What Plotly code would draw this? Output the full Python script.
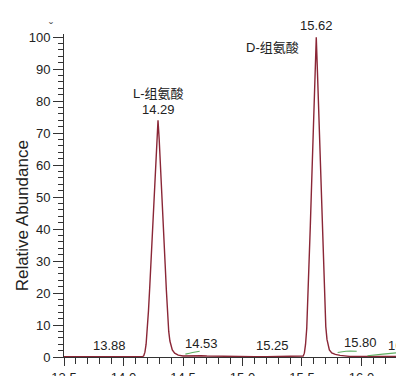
import plotly.graph_objects as go

# Chromatogram trace: retention time (min) vs relative abundance (%)
rt = [13.50, 13.60, 13.70, 13.80, 13.88, 13.95, 14.05, 14.12, 14.15, 14.16,
      14.17, 14.18, 14.19, 14.20, 14.21, 14.22, 14.23, 14.24, 14.25, 14.26,
      14.27, 14.28, 14.29, 14.30, 14.31, 14.32, 14.33, 14.34, 14.35, 14.36,
      14.37, 14.38, 14.39, 14.40, 14.41, 14.43, 14.46, 14.50, 14.55, 14.60,
      14.65, 14.70, 14.80, 14.90, 15.00, 15.10, 15.20, 15.25, 15.30, 15.40,
      15.46, 15.50, 15.51, 15.52, 15.53, 15.54, 15.55, 15.56, 15.57, 15.58,
      15.59, 15.60, 15.61, 15.62, 15.63, 15.64, 15.65, 15.66, 15.67, 15.68,
      15.69, 15.70, 15.71, 15.72, 15.73, 15.75, 15.78, 15.82, 15.86, 15.90,
      16.00, 16.10, 16.20, 16.29]
abundance = [0.1, 0.1, 0.1, 0.1, 0.2, 0.1, 0.1, 0.1, 0.1, 0.1,
             0.4, 1.5, 4.0, 8.5, 14.5, 21.5, 29.0, 37.0, 45.0, 53.0,
             61.0, 68.0, 74.0, 68.0, 61.0, 53.0, 45.0, 37.0, 29.0, 21.0,
             13.5, 8.0, 5.0, 3.3, 2.2, 1.2, 0.6, 0.3, 0.4, 0.5,
             0.4, 0.3, 0.2, 0.1, 0.1, 0.1, 0.1, 0.1, 0.1, 0.1,
             0.1, 0.2, 0.3, 1.2, 4.0, 9.0, 18.0, 29.0, 41.0, 53.0,
             65.0, 77.0, 89.0, 100.0, 89.0, 77.0, 64.0, 51.0, 38.0, 26.0,
             16.0, 9.5, 5.5, 3.3, 2.2, 1.3, 0.8, 0.5, 0.3, 0.2,
             0.2, 0.2, 0.2, 0.2]

# Integration baselines of the minor peaks
base1_rt = [14.52, 14.58, 14.64]
base1_ab = [0.9, 1.4, 1.8]
base2_rt = [15.80, 15.87, 15.96]
base2_ab = [1.4, 1.8, 1.8]
base3_rt = [16.05, 16.18, 16.29]
base3_ab = [0.4, 0.9, 1.3]

# Peak labels (retention times)
minor_labels = ["13.88", "14.53", "15.25", "15.80", "16.20"]
minor_rt = [13.88, 14.53, 15.25, 15.80, 16.20]
minor_anchor = ["center", "left", "center", "left", "left"]
minor_shift = [0, -4, 0, 4, 1]
minor_lift = [2, 4, 2, 5, 2]

major_rt = [14.29, 15.62]
major_ab = [74.0, 100.0]
major_names = ["L-组氨酸", "D-组氨酸"]

x_ticks = [13.5, 14.0, 14.5, 15.0, 15.5, 16.0]
y_ticks = list(range(0, 101, 10))

FONT = "Liberation Sans, Arial, Noto Sans CJK SC, sans-serif"
INK = "#222222"
TRACE = "#8a2636"
GREEN = "#5fae62"

fig = go.Figure()
fig.add_trace(go.Scatter(x=rt, y=abundance, mode="lines",
                         line=dict(color=TRACE, width=1.4),
                         cliponaxis=False, hoverinfo="skip"))
for bx, by in [(base1_rt, base1_ab), (base2_rt, base2_ab), (base3_rt, base3_ab)]:
    fig.add_trace(go.Scatter(x=bx, y=by, mode="lines", line_shape="spline",
                             line=dict(color=GREEN, width=1.1),
                             cliponaxis=False, hoverinfo="skip"))

annotations = []
for txt, x, anc, sh, lift in zip(minor_labels, minor_rt, minor_anchor, minor_shift, minor_lift):
    annotations.append(dict(x=x, y=0, text=txt, showarrow=False, xanchor=anc,
                            yanchor="bottom", xshift=sh, yshift=lift,
                            font=dict(size=13, color=INK, family=FONT)))

# Main peak labels
annotations.append(dict(x=major_rt[0], y=major_ab[0], text="14.29", showarrow=False,
                        xanchor="center", yanchor="bottom", yshift=1,
                        font=dict(size=13, color=INK, family=FONT)))
annotations.append(dict(x=major_rt[0], y=major_ab[0], text=major_names[0], showarrow=False,
                        xanchor="center", yanchor="bottom", yshift=17,
                        font=dict(size=13, color=INK, family=FONT)))
annotations.append(dict(x=major_rt[1], y=major_ab[1], text="15.62", showarrow=False,
                        xanchor="center", yanchor="bottom", yshift=2,
                        font=dict(size=13, color=INK, family=FONT)))
annotations.append(dict(x=major_rt[1], y=major_ab[1], text=major_names[1], showarrow=False,
                        xanchor="right", yanchor="middle", xshift=-15, yshift=-10,
                        font=dict(size=13, color=INK, family=FONT)))

# Axis title
annotations.append(dict(xref="paper", yref="paper", x=-0.125, y=0.437,
                        text="Relative Abundance", textangle=-90, showarrow=False,
                        xanchor="center", yanchor="middle",
                        font=dict(size=17, color=INK, family=FONT)))
annotations.append(dict(xref="paper", yref="paper", x=-0.04, y=1.02, text="ˇ",
                        showarrow=False, xanchor="center", yanchor="middle",
                        font=dict(size=12, color="#555555", family=FONT)))

fig.update_layout(
    width=396, height=376, autosize=False,
    margin=dict(l=64, r=0, t=34, b=19),
    paper_bgcolor="white", plot_bgcolor="white",
    showlegend=False,
    annotations=annotations,
    font=dict(family=FONT, size=13, color=INK),
)
fig.update_xaxes(
    range=[13.5, 16.29], tickvals=x_ticks, ticktext=[f"{v:.1f}" for v in x_ticks],
    ticks="outside", ticklen=8, tickwidth=1, tickcolor="#333333",
    automargin=False,
    minor=dict(dtick=0.1, tick0=13.5, ticks="outside", ticklen=6, tickwidth=1,
               tickcolor="#333333"),
    showline=True, linecolor="#333333", linewidth=1,
    showgrid=False, zeroline=False, layer="below traces",
    tickfont=dict(size=13, color=INK, family=FONT),
)
fig.update_yaxes(
    range=[0, 101], tickvals=y_ticks,
    ticks="outside", ticklen=10, tickwidth=1, tickcolor="#333333",
    automargin=False,
    minor=dict(dtick=2, tick0=0, ticks="outside", ticklen=5, tickwidth=1,
               tickcolor="#333333"),
    showline=True, linecolor="#333333", linewidth=1,
    showgrid=False, zeroline=False, layer="below traces",
    tickfont=dict(size=13, color=INK, family=FONT),
)

fig.write_html("out.html", config={"displayModeBar": False})
